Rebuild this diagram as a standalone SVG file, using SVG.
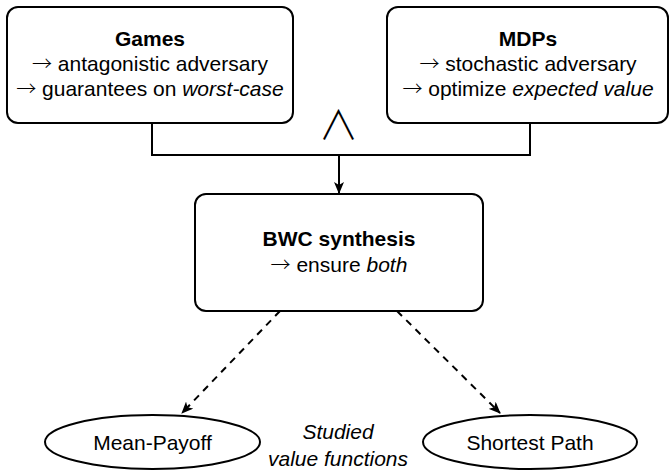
<svg xmlns="http://www.w3.org/2000/svg" width="670" height="471" viewBox="0 0 670 471">
<defs>
<style>
.box{fill:#fff;stroke:#000;stroke-width:2}
.t{font-family:"Liberation Sans",Arial,sans-serif;font-size:21px;fill:#000;text-anchor:middle}
.b{font-weight:bold}
.i{font-style:italic}
.a{font-family:"Noto Sans CJK SC",sans-serif;font-weight:300;font-style:normal;font-size:20px}
.line{fill:none;stroke:#000;stroke-width:2}
.dash{fill:none;stroke:#000;stroke-width:2;stroke-dasharray:7 6}
</style>
<marker id="arr" viewBox="0 0 12 10" refX="11" refY="5" markerWidth="12" markerHeight="10" markerUnits="userSpaceOnUse" orient="auto">
<path d="M0,0 L12,5 L0,10 L3,5 z" fill="#000"/>
</marker>
</defs>
<rect width="670" height="471" fill="#fff"/>
<g id="games">
<rect class="box" x="7" y="7" width="286" height="116" rx="11"/>
<text class="t b" x="150" y="46">Games</text>
<text class="t" x="150" y="71"><tspan class="a">→</tspan> antagonistic adversary</text>
<text class="t" x="150" y="96"><tspan class="a">→</tspan> guarantees on <tspan class="i">worst-case</tspan></text>
</g>
<g id="mdps">
<rect class="box" x="387" y="7" width="281" height="116" rx="11"/>
<text class="t b" x="528" y="46">MDPs</text>
<text class="t" x="528" y="71"><tspan class="a">→</tspan> stochastic adversary</text>
<text class="t" x="528" y="96"><tspan class="a">→</tspan> optimize <tspan class="i">expected value</tspan></text>
</g>
<g id="bwc">
<rect class="box" x="195" y="194" width="288" height="117" rx="11"/>
<text class="t b" x="339" y="246">BWC synthesis</text>
<text class="t" x="339" y="272"><tspan class="a">→</tspan> ensure <tspan class="i">both</tspan></text>
</g>
<g id="meanpayoff">
<ellipse class="box" cx="152.5" cy="442" rx="107.5" ry="27"/>
<text class="t" x="152.5" y="450">Mean-Payoff</text>
</g>
<g id="shortestpath">
<ellipse class="box" cx="530" cy="442" rx="107" ry="27"/>
<text class="t" x="530" y="450">Shortest Path</text>
</g>
<g id="label">
<text class="t i" x="338" y="439">Studied</text>
<text class="t i" x="338" y="466">value functions</text>
</g>
<g id="connectors">
<path class="line" d="M152,123 V155 H530 V123"/>
<text x="338.5" y="139" style="font-family:'Noto Sans CJK SC',sans-serif;font-weight:300;font-size:40px;text-anchor:middle">∧</text>
<line class="line" x1="339" y1="155" x2="339" y2="193" marker-end="url(#arr)"/>
<line class="dash" x1="280" y1="311" x2="182" y2="413" marker-end="url(#arr)"/>
<line class="dash" x1="397" y1="311" x2="500" y2="413" marker-end="url(#arr)"/>
</g>
</svg>
